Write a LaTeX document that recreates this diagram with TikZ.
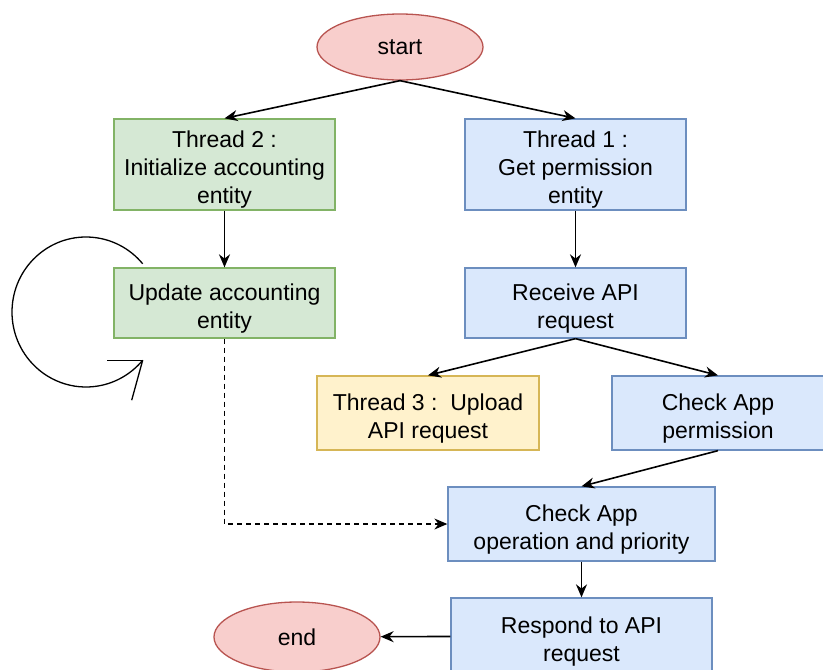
\documentclass[tikz,border=0pt]{standalone}
\usepackage{fontspec}
\setmainfont{Liberation Sans}
\usetikzlibrary{shapes.geometric,arrows.meta,calc}
\definecolor{gfill}{HTML}{D5E8D4}\definecolor{gline}{HTML}{82B366}
\definecolor{bfill}{HTML}{DAE8FC}\definecolor{bline}{HTML}{6C8EBF}
\definecolor{yfill}{HTML}{FFF2CC}\definecolor{yline}{HTML}{D6B656}
\definecolor{rfill}{HTML}{F8CECC}\definecolor{rline}{HTML}{B85450}
\newcommand\lowr{\rule{0pt}{27pt}}
\begin{document}
\begin{tikzpicture}[x=1pt,y=-1pt,
  every node/.style={font=\fontsize{23}{28}\selectfont, align=center, inner sep=0pt},
  box/.style={rectangle, draw, line width=1.3pt, minimum width=221pt, minimum height=#1},
  box/.default=70pt,
  gbox/.style={box=#1, fill=gfill, draw=gline},
  gbox/.default=70pt,
  bbox/.style={box=#1, fill=bfill, draw=bline},
  bbox/.default=70pt,
  ybox/.style={box=#1, fill=yfill, draw=yline},
  ybox/.default=74pt,
  term/.style={ellipse, fill=rfill, draw=rline, line width=1.3pt, minimum width=166pt, minimum height=66pt},
  conn/.style={line width=1.6pt, -{Stealth[length=13pt,width=11pt]}},
]
\useasboundingbox (0,0) rectangle (823,670);
\node[term] (start) at (400,47) {start};
\node[gbox=91pt] (t2) at (224.5,164.5) {\lowr Thread 2 :\\Initialize accounting\\entity};
\node[bbox=91pt] (t1) at (575.5,164.5) {\lowr Thread 1 :\\Get permission\\entity};
\node[gbox] (upd) at (224.5,303) {\lowr Update accounting\\entity};
\node[bbox] (recv) at (575.5,303) {\lowr Receive API\\request};
\node[ybox, minimum width=222pt] (t3) at (428,413) {\lowr Thread 3 :\ \ Upload\\API request};
\node[bbox=74pt, minimum width=212pt] (perm) at (718,413) {\lowr Check App\\permission};
\node[bbox=74pt, minimum width=267pt] (oper) at (581.5,524) {\lowr Check App\\operation and priority};
\node[bbox=76pt, minimum width=261pt] (resp) at (581.5,636) {\lowr Respond to API\\request};
\node[term, minimum height=70pt] (end) at (297,637) {end};

\draw[conn] (start.south) -- (t2.north);
\draw[conn] (start.south) -- (t1.north);
\draw[conn] (t2) -- (upd);
\draw[conn] (t1) -- (recv);
\draw[conn] (recv.south) -- (t3.north);
\draw[conn] (recv.south) -- (perm.north);
\draw[conn] (perm.south) -- (oper.north);
\draw[conn] (oper) -- (resp);
\draw[conn] (resp) -- (end);
\draw[conn, dashed, line width=1.2pt, dash pattern=on 5pt off 4pt] (upd.south) |- (oper.west);

% self loop
\coordinate (lc) at (86,312);
\draw[line width=1.3pt] ($(lc)+(40:74pt and 75pt)$) arc[start angle=40, end angle=320, x radius=74pt, y radius=75pt] coordinate (tip);
\draw[line width=1.3pt] (tip) -- ++(-36,0);
\draw[line width=1.3pt] (tip) -- ++(-11,40);
\end{tikzpicture}
\end{document}
